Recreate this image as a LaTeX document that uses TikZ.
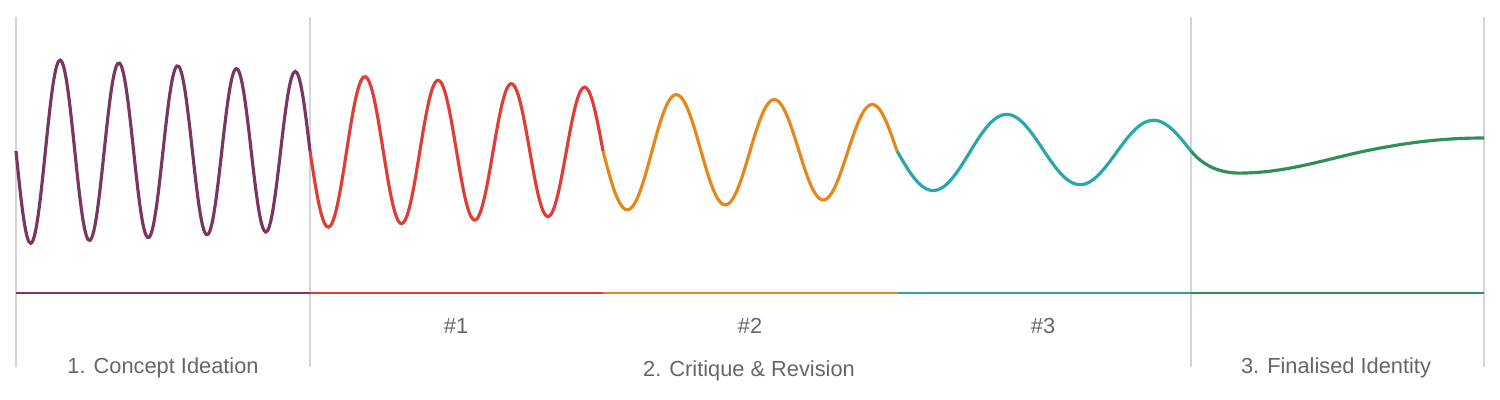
\documentclass[tikz,border=0pt]{standalone}
\usepackage{fontspec}
\setmainfont{Liberation Sans}
\usepackage{tikz}

\definecolor{plum}{HTML}{7A3560}
\definecolor{brick}{HTML}{E03D36}
\definecolor{amber}{HTML}{E6871C}
\definecolor{teal}{HTML}{2BA6A9}
\definecolor{fern}{HTML}{2F9158}
\definecolor{sepgray}{HTML}{D4D4D4}
\definecolor{labgray}{HTML}{666666}

\tikzset{
  wave/.style={line width=0.9pt, smooth, samples=160},
  base/.style={line width=0.6pt},
  sep/.style={draw=sepgray, line width=0.6pt},
  lab/.style={text=labgray, font=\fontsize{6.2}{7}\selectfont, inner sep=0pt, anchor=base}
}

\begin{document}
\begin{tikzpicture}[x=0.01cm, y=-0.01cm]
\useasboundingbox (0,0) rectangle (1500,400);

\coordinate (s0) at (16,17);
\coordinate (s1) at (310,17);
\coordinate (s2) at (1191,17);
\coordinate (s3) at (1484,17);

\draw[sep] (s0) -- ++(0,350);
\draw[sep] (s1) -- ++(0,350);
\draw[sep] (s2) -- ++(0,350);
\draw[sep] (s3) -- ++(0,350);

\coordinate (b0) at (16,293);
\coordinate (b1) at (310,293);
\coordinate (b2) at (603,293);
\coordinate (b3) at (897,293);
\coordinate (b4) at (1191,293);
\coordinate (b5) at (1484,293);

\draw[base, plum] (b0) -- (b1);
\draw[base, brick] (b1) -- (b2);
\draw[base, amber] (b2) -- (b3);
\draw[base, teal] (b3) -- (b4);
\draw[base, fern] (b4) -- (b5);

\draw[wave, plum, domain=16:310] plot (\x, {151 + (93-0.048*(\x-16))*sin((\x-16)/58.8*360)});
\draw[wave, brick, domain=310:603] plot (\x, {151 + (77-0.048*(\x-310))*sin((\x-310)/73.25*360)});
\draw[wave, amber, domain=603:897] plot (\x, {151 + (60-0.05*(\x-603))*sin((\x-603)/98*360)});
\draw[wave, teal, domain=897:1191, samples=120] plot (\x, {151 + (41-0.04*(\x-897))*sin((\x-897)/147*360)});
\draw[wave, fern] (1191,151) .. controls (1206,169) and (1225,174) .. (1245,173)
  .. controls (1290,172) and (1330,158) .. (1370,150)
  .. controls (1420,140) and (1455,138) .. (1484,138);

\node[lab] (r1) at (456,333) {\#1};
\node[lab] (r2) at (750,333) {\#2};
\node[lab] (r3) at (1043,333) {\#3};

\node[lab] (ph1) at (163,373) {1. Concept Ideation};
\node[lab] (ph2) at (749,376) {2. Critique \& Revision};
\node[lab] (ph3) at (1336,373) {3. Finalised Identity};

\end{tikzpicture}
\end{document}
